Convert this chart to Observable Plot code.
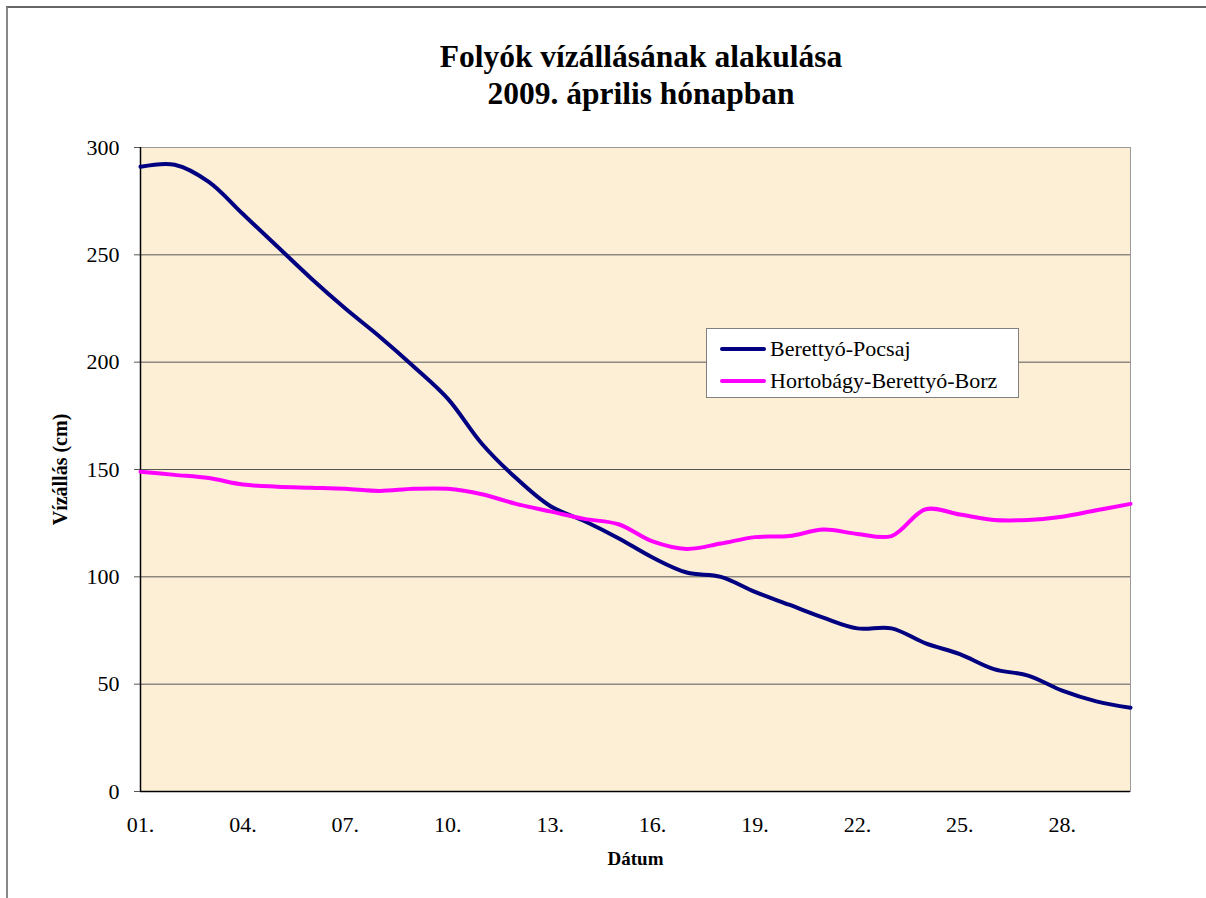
<!DOCTYPE html>
<html>
<head>
<meta charset="utf-8">
<script src="https://cdn.jsdelivr.net/npm/d3@7"></script>
<script src="https://cdn.jsdelivr.net/npm/@observablehq/plot@0.6"></script>
<style>
  body { margin: 0; background: #fff; }
  #wrap { position: relative; width: 1206px; height: 898px; overflow: hidden; font-family: "Liberation Serif", "Times New Roman", serif; }
  #border { position: absolute; left: 6px; top: 6px; width: 1300px; height: 1000px; border-top: 2px solid #666; border-left: 2px solid #888; }
  #title { position: absolute; left: 76px; top: 38px; width: 1130px; text-align: center; font-size: 31.5px; font-weight: bold; line-height: 37px; color: #000; }
  #chart { position: absolute; left: 0; top: 130px; }
  #legend { position: absolute; left: 706px; top: 328px; width: 311px; height: 68px; background: #fff; border: 1px solid #808080; font-size: 22px; color: #000; }
  .item { position: absolute; left: 13px; display: flex; align-items: center; line-height: 24px; }
  .sw { width: 46px; height: 4px; border-radius: 2px; margin-right: 4px; }
</style>
</head>
<body>
<div id="wrap">
  <div id="border"></div>
  <div id="title">Folyók vízállásának alakulása<br>2009. április hónapban</div>
  <div id="chart"></div>
  <div id="legend"></div>
</div>
<script>
const days = [1,2,3,4,5,6,7,8,9,10,11,12,13,14,15,16,17,18,19,20,21,22,23,24,25,26,27,28,29,30];
const pocsaj = [291,292,284,269,254,239,225,212,198,183,162,146,133,126,118,109,102,100,93,87,81,76,76,69,64,57,54,47,42,39];
const borz = [149,147.5,146,143,142,141.5,141,140,141,141,138.5,134,130.5,127,124.5,116.5,113,115.5,118.5,119,122,120,119,131.5,129,126.5,126.5,128,131,134];
const seriesNames = ["Berettyó-Pocsaj", "Hortobágy-Berettyó-Borz"];
const seriesColors = ["#000080", "#ff00ff"];
const xTicks = [1,4,7,10,13,16,19,22,25,28];
const yTicks = [0,50,100,150,200,250,300];
const xTitle = "Dátum";
const yTitle = "Vízállás (cm)";

const data = [];
days.forEach((d, i) => {
  data.push({day: d, value: pocsaj[i], series: seriesNames[0]});
  data.push({day: d, value: borz[i], series: seriesNames[1]});
});
const fmt = d => String(d).padStart(2, "0") + ".";

const chart = Plot.plot({
  width: 1206,
  height: 768,
  marginLeft: 140,
  marginRight: 76,
  marginTop: 17,
  marginBottom: 107,
  style: {fontFamily: "'Liberation Serif', 'Times New Roman', serif", fontSize: "22px", color: "#000", background: "transparent"},
  x: {domain: [1, 30]},
  y: {domain: [0, 300]},
  color: {domain: seriesNames, range: seriesColors},
  marks: [
    Plot.frame({fill: "#fcefd6", stroke: "#9a9a9a"}),
    Plot.gridY(yTicks.slice(1, -1), {stroke: "#555", strokeOpacity: 1, strokeWidth: 1}),
    Plot.axisY({ticks: yTicks, tickSize: 6, tickPadding: 15, label: null, fontSize: 22, stroke: "#555"}),
    Plot.axisX({ticks: xTicks, tickSize: 0, tickPadding: 25, tickFormat: fmt, label: null, fontSize: 22}),
    Plot.ruleX([1], {stroke: "#000", strokeWidth: 1.5}),
    Plot.ruleY([0], {stroke: "#000", strokeWidth: 1.5}),
    Plot.line(data, {x: "day", y: "value", z: "series", stroke: "series", curve: "catmull-rom", strokeWidth: 4, strokeLinejoin: "round"}),
    Plot.text([xTitle], {text: d => d, frameAnchor: "bottom", dy: 67, lineAnchor: "middle", textAnchor: "middle", fontWeight: "bold", fontSize: 19}),
    Plot.text([yTitle], {text: d => d, frameAnchor: "left", dx: -80, rotate: -90, textAnchor: "middle", lineAnchor: "middle", fontWeight: "bold", fontSize: 20})
  ]
});
document.getElementById("chart").appendChild(chart);

const legend = document.getElementById("legend");
seriesNames.forEach((name, i) => {
  const it = document.createElement("div");
  it.className = "item";
  it.style.top = (i === 0 ? 8 : 40) + "px";
  const sw = document.createElement("div");
  sw.className = "sw";
  sw.style.background = seriesColors[i];
  const tx = document.createElement("span");
  tx.textContent = name;
  it.appendChild(sw);
  it.appendChild(tx);
  legend.appendChild(it);
});
</script>
</body>
</html>
